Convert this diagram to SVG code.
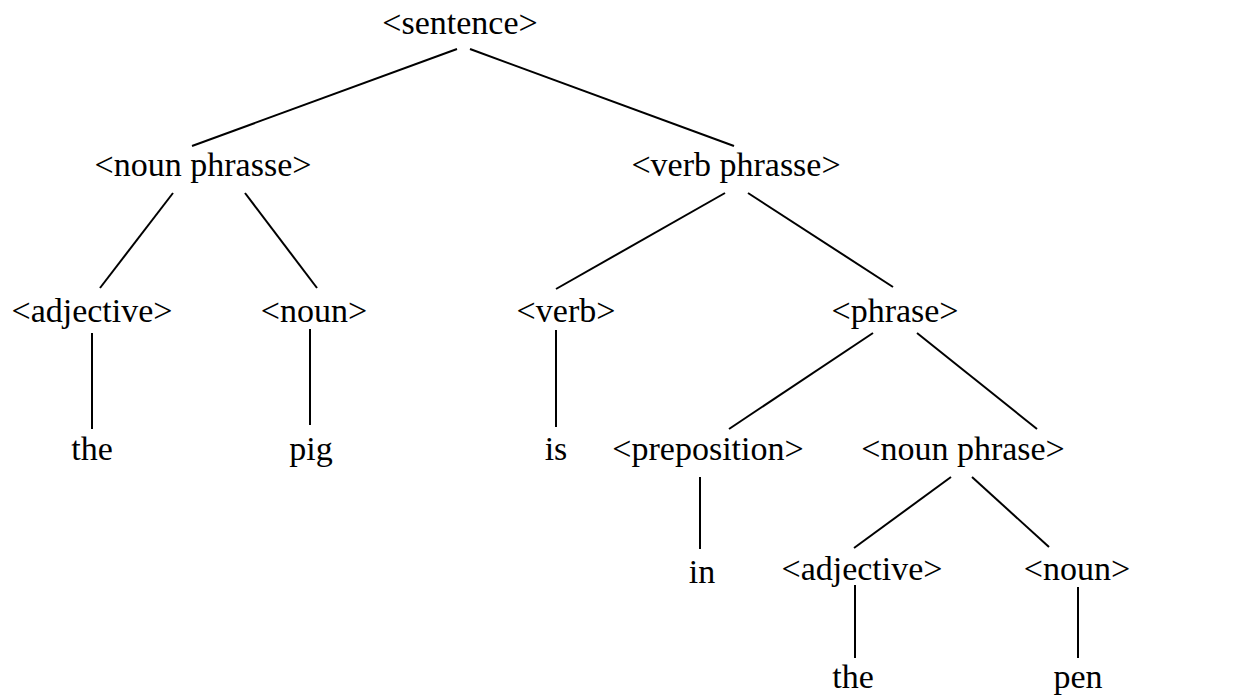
<svg xmlns="http://www.w3.org/2000/svg" width="1250" height="696" viewBox="0 0 1250 696">
<style>
text{font-family:"Liberation Serif","Times New Roman",serif;font-size:34px;fill:#000;text-anchor:middle}
line{stroke:#000;stroke-width:2;stroke-linecap:butt}
</style>
<rect width="1250" height="696" fill="#fff"/>
<g id="connectors">
<line x1="457" y1="49" x2="192" y2="146"/>
<line x1="470" y1="49" x2="734" y2="146"/>
<line x1="173" y1="193" x2="100" y2="288"/>
<line x1="245" y1="193" x2="317" y2="288"/>
<line x1="725" y1="193" x2="556" y2="289"/>
<line x1="748" y1="193" x2="893" y2="287"/>
<line x1="92" y1="333" x2="92" y2="429"/>
<line x1="310" y1="329" x2="310" y2="425"/>
<line x1="556" y1="330" x2="556" y2="427"/>
<line x1="873" y1="333" x2="729" y2="429"/>
<line x1="917" y1="333" x2="1037" y2="429"/>
<line x1="700" y1="477" x2="700" y2="549"/>
<line x1="951" y1="477" x2="854" y2="548"/>
<line x1="972" y1="477" x2="1049" y2="547"/>
<line x1="855" y1="585" x2="855" y2="658"/>
<line x1="1078" y1="587" x2="1078" y2="658"/>
</g>
<g id="n-sentence"><text x="460" y="34">&lt;sentence&gt;</text></g>
<g id="n-nounphrasse"><text x="203" y="176">&lt;noun phrasse&gt;</text></g>
<g id="n-verbphrasse"><text x="736" y="176">&lt;verb phrasse&gt;</text></g>
<g id="n-adjective1"><text x="92" y="322">&lt;adjective&gt;</text></g>
<g id="n-noun1"><text x="314" y="322">&lt;noun&gt;</text></g>
<g id="n-verb"><text x="566" y="322">&lt;verb&gt;</text></g>
<g id="n-phrase"><text x="895" y="322">&lt;phrase&gt;</text></g>
<g id="n-the1"><text x="92" y="460">the</text></g>
<g id="n-pig"><text x="311" y="460">pig</text></g>
<g id="n-is"><text x="556" y="460">is</text></g>
<g id="n-preposition"><text x="708" y="460">&lt;preposition&gt;</text></g>
<g id="n-nounphrase"><text x="963" y="460">&lt;noun phrase&gt;</text></g>
<g id="n-in"><text x="702" y="583">in</text></g>
<g id="n-adjective2"><text x="862" y="580">&lt;adjective&gt;</text></g>
<g id="n-noun2"><text x="1077" y="580">&lt;noun&gt;</text></g>
<g id="n-the2"><text x="853" y="688">the</text></g>
<g id="n-pen"><text x="1078" y="688">pen</text></g>
</svg>
